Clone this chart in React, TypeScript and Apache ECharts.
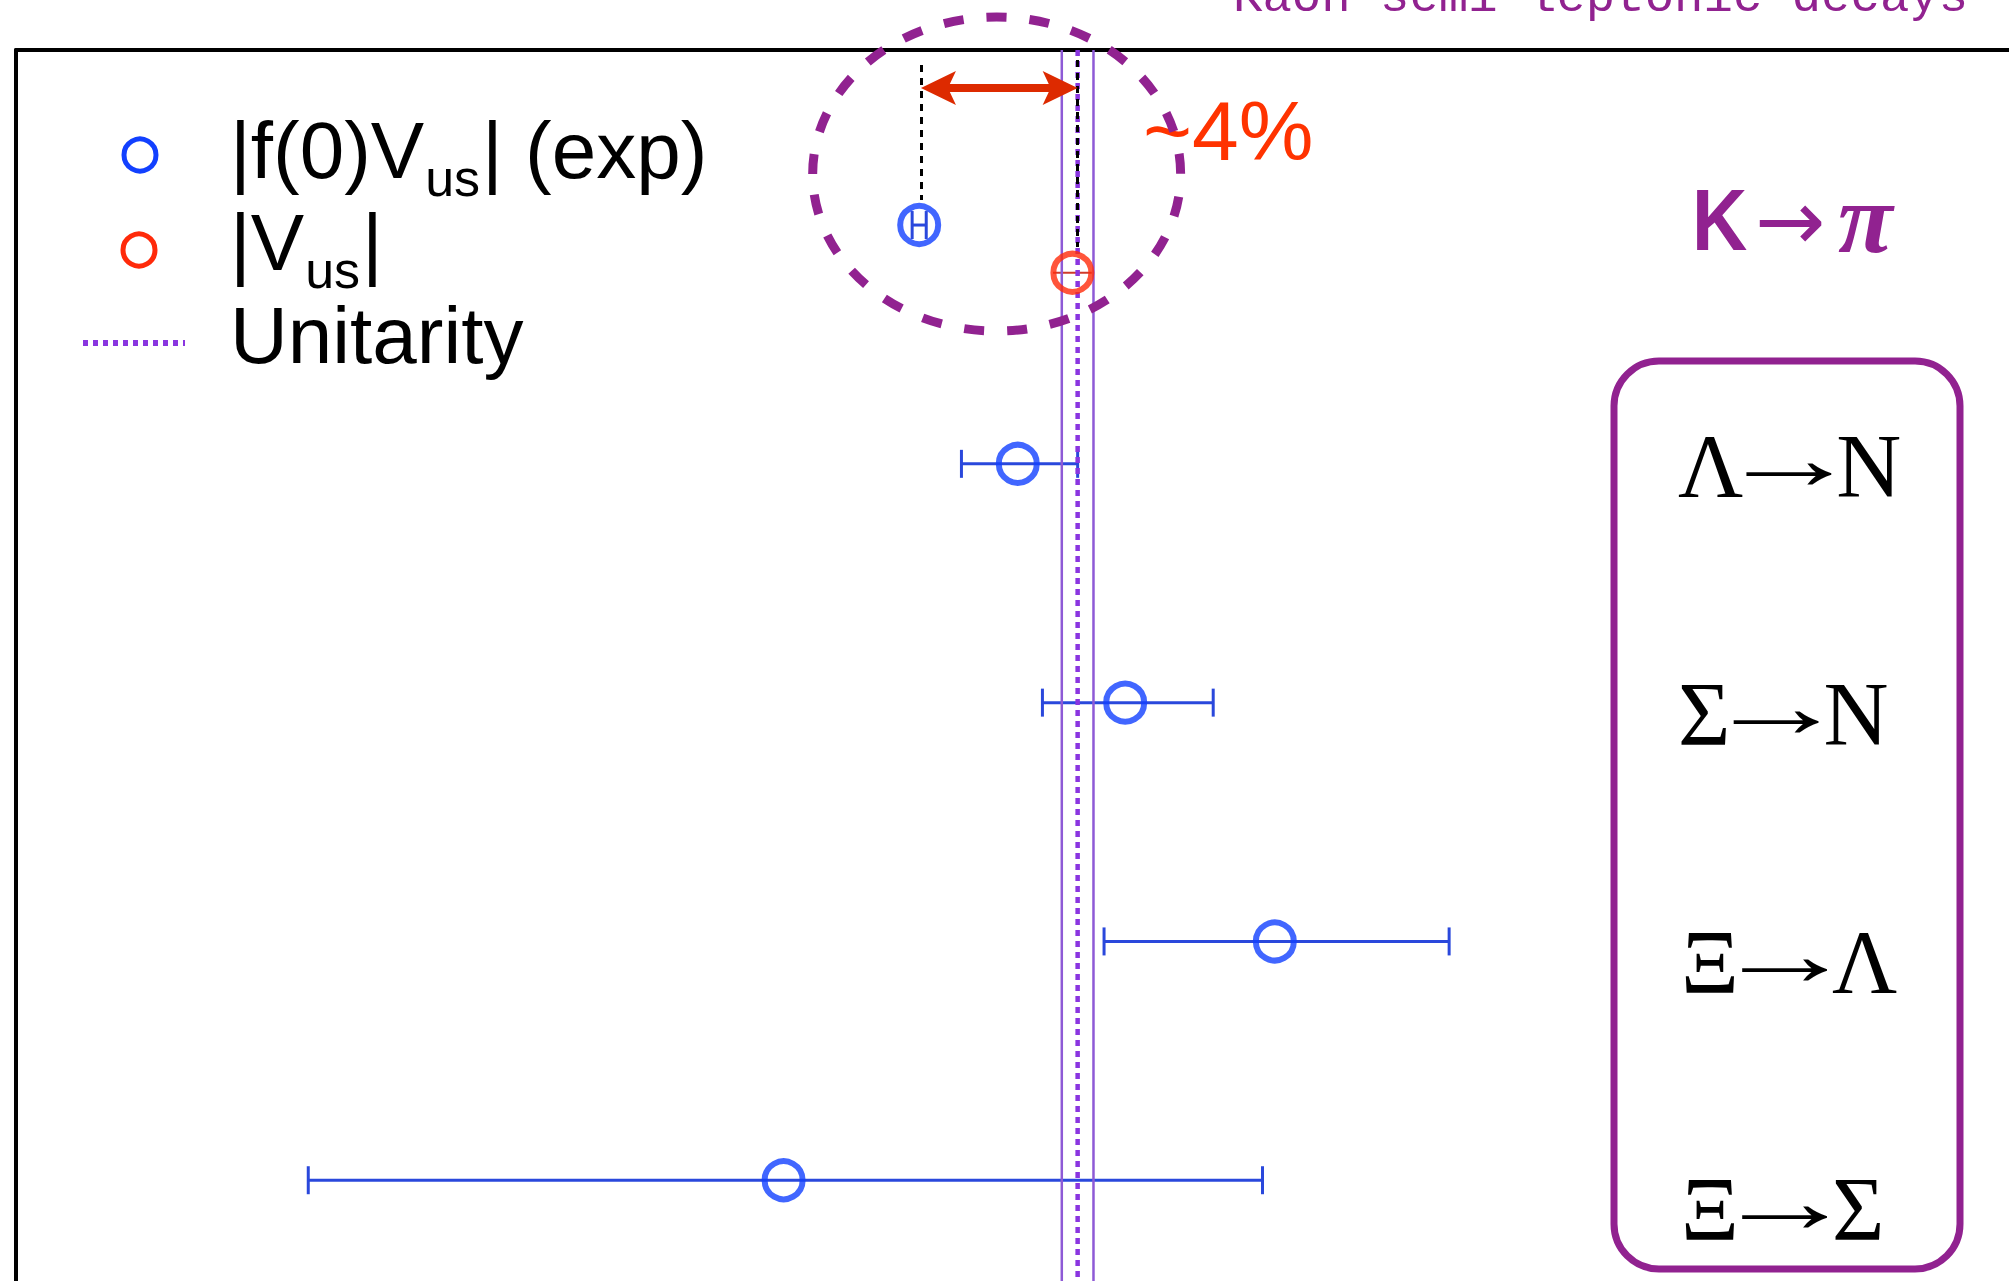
import { useEffect, useRef } from 'react';
import * as echarts from 'echarts';

const WIDTH = 2009;
const HEIGHT = 1281;

// Decay channels, top to bottom
const categories = ['K→π', 'Λ→N', 'Σ→N', 'Ξ→Λ', 'Ξ→Σ'];
const channelRow = [0, 1, 2, 3, 4];

// |f(0) Vus| from experiment: central value and error-bar edges
const expCentral = [0.2163, 0.2219, 0.228, 0.2365, 0.2086];
const expLow = [0.2159, 0.2187, 0.2233, 0.2268, 0.1816];
const expHigh = [0.2167, 0.2253, 0.233, 0.2464, 0.2358];

// |Vus| for the kaon channel, drawn a little below its row
const vusRow = [0.2];
const vusCentral = [0.225];
const vusLow = [0.2239];
const vusHigh = [0.2261];

// Unitarity value and band
const unitarityCentral = 0.2253;
const unitarityBand = [0.2244, 0.2262];

// Axis extents (x: |Vus|, y: channel row)
const xExtent = [0.165, 0.2782];
const rowExtent = [-0.733, 4.422];

// Annotation of the ~4% gap between the kaon point and unitarity
const gapLeftX = 0.2164;
const gapArrowRow = -0.574;
const guideLeftRows = [-0.67, -0.105];
const guideRightRows = [-0.691, 0.092];
const haloX = [0.21025, 0.23115];
const haloRows = [-0.871, 0.444];

const BLUE = '#1240ff';
const BLUE_BAR = '#2a48dc';
const RED = '#ff2a0a';
const PURPLE = '#912290';
const VIOLET_LINE = '#8e5ad6';
const VIOLET_DOT = '#8a35e0';

const CENTRAL: Record<string, number> = {
  'Liberation Sans': 0.3465,
  'Liberation Serif': 0.3375,
  'Liberation Mono': 0.2665,
  'DejaVu Sans': 0.346,
};

function measure(text: string, size: number, family: string, weight = 'normal', style = 'normal') {
  const ctx = document.createElement('canvas').getContext('2d')!;
  ctx.font = `${style} ${weight} ${size}px "${family}"`;
  return ctx.measureText(text);
}

function textAt(
  x: number,
  baseline: number,
  text: string,
  size: number,
  family: string,
  color: string,
  opts: { weight?: string; style?: string; align?: string; z?: number; scaleX?: number } = {}
) {
  return {
    type: 'text',
    x,
    y: baseline - CENTRAL[family] * size,
    scaleX: opts.scaleX ?? 1,
    z: opts.z ?? 20,
    silent: true,
    style: {
      text,
      fill: color,
      fontSize: size,
      fontFamily: family,
      fontWeight: opts.weight ?? 'normal',
      fontStyle: opts.style ?? 'normal',
      align: opts.align ?? 'left',
      verticalAlign: 'middle',
      textAlign: opts.align ?? 'left',
      textVerticalAlign: 'middle',
    },
  };
}

function errorBarRenderer(color: string, width: number, cap: number) {
  return (_params: any, api: any) => {
    const lo = api.coord([api.value(0), api.value(2)]);
    const hi = api.coord([api.value(1), api.value(2)]);
    const style = { stroke: color, lineWidth: width };
    const children: any[] = [
      { type: 'line', shape: { x1: lo[0], y1: lo[1], x2: hi[0], y2: hi[1] }, style },
    ];
    if (cap > 0) {
      children.push(
        { type: 'line', shape: { x1: lo[0], y1: lo[1] - cap, x2: lo[0], y2: lo[1] + cap }, style },
        { type: 'line', shape: { x1: hi[0], y1: hi[1] - cap, x2: hi[0], y2: hi[1] + cap }, style }
      );
    }
    return { type: 'group', children };
  };
}

// Full-height vertical lines: kind 0 = band edge, kind 1 = central value
function unitarityRenderer(params: any, api: any) {
  const cs = params.coordSys;
  const x = api.coord([api.value(0), 0])[0];
  const central = api.value(1) === 1;
  return {
    type: 'line',
    shape: { x1: x, y1: cs.y, x2: x, y2: cs.y + cs.height },
    style: central
      ? { stroke: VIOLET_DOT, lineWidth: 4.5, lineDash: [6, 5] }
      : { stroke: VIOLET_LINE, lineWidth: 2.5 },
  };
}

// A label like "Λ→N" drawn as letter, long arrow, letter
function channelLabel(label: string, x: number, baseline: number) {
  const chars = Array.from(label);
  const serif = 'Liberation Serif';
  const size = 90;
  const w0 = measure(chars[0], size, serif).width;
  const am = measure(chars[1], size, serif);
  const inkLeft = -am.actualBoundingBoxLeft;
  const inkW = am.actualBoundingBoxRight + am.actualBoundingBoxLeft;
  const arrowInk = 86;
  const sx = inkW > 0 ? arrowInk / inkW : 1.45;
  const inkStart = x + w0 + 3;
  const arrowX = inkStart - inkLeft * sx;
  return [
    textAt(x, baseline, chars[0], size, serif, '#000'),
    textAt(arrowX, baseline - 8, chars[1], size, serif, '#000', { scaleX: sx }),
    textAt(inkStart + arrowInk + 4, baseline, chars[2], size, serif, '#000'),
  ];
}

export default function App() {
  const ref = useRef<HTMLDivElement>(null);

  useEffect(() => {
    if (!ref.current) return;
    const chart = echarts.init(ref.current, undefined, { renderer: 'svg' });

    const axisLine = { show: true, onZero: false, lineStyle: { color: '#000', width: 4 } };

    chart.setOption({
      animation: false,
      backgroundColor: '#ffffff',
      grid: { left: 16, top: 50, right: 0, bottom: 0, containLabel: false },
      xAxis: {
        type: 'value',
        min: xExtent[0],
        max: xExtent[1],
        position: 'top',
        axisLine,
        axisTick: { show: false },
        axisLabel: { show: false },
        splitLine: { show: false },
      },
      yAxis: {
        type: 'value',
        min: rowExtent[0],
        max: rowExtent[1],
        inverse: true,
        axisLine,
        axisTick: { show: false },
        axisLabel: { show: false },
        splitLine: { show: false },
      },
      series: [
        {
          name: 'exp-errors',
          type: 'custom',
          z: 2,
          silent: true,
          renderItem: errorBarRenderer(BLUE_BAR, 3, 14),
          encode: { x: [0, 1], y: 2 },
          data: channelRow.map((r, i) => [expLow[i], expHigh[i], r]),
        },
        {
          name: 'vus-errors',
          type: 'custom',
          z: 2,
          silent: true,
          renderItem: errorBarRenderer('#d03a2a', 2, 0),
          encode: { x: [0, 1], y: 2 },
          data: vusRow.map((r, i) => [vusLow[i], vusHigh[i], r]),
        },
        {
          name: 'Unitarity',
          type: 'custom',
          z: 3,
          silent: true,
          renderItem: unitarityRenderer,
          encode: { x: 0, y: 1 },
          data: [
            [unitarityBand[0], 0],
            [unitarityBand[1], 0],
            [unitarityCentral, 1],
          ],
        },
        {
          name: 'guides',
          type: 'line',
          z: 4,
          showSymbol: false,
          data: [[unitarityCentral, 0]],
          markLine: {
            silent: true,
            symbol: ['none', 'none'],
            label: { show: false },
            lineStyle: { color: '#000', width: 3, type: [7, 6] },
            data: [
              [{ coord: [gapLeftX, guideLeftRows[0]] }, { coord: [gapLeftX, guideLeftRows[1]] }],
              [{ coord: [unitarityCentral, guideRightRows[0]] }, { coord: [unitarityCentral, guideRightRows[1]] }],
            ],
          },
        },
        {
          name: '|f(0)Vus| (exp)',
          type: 'scatter',
          z: 6,
          symbol: 'circle',
          symbolSize: 38,
          itemStyle: { color: 'rgba(0,0,0,0)', borderColor: BLUE, borderWidth: 6 },
          data: channelRow.map((r, i) => [expCentral[i], r]),
        },
        {
          name: '|Vus|',
          type: 'scatter',
          z: 6,
          symbol: 'circle',
          symbolSize: 38,
          itemStyle: { color: 'rgba(0,0,0,0)', borderColor: RED, borderWidth: 6 },
          data: vusRow.map((r, i) => [vusCentral[i], r]),
        },
      ],
    });

    const px = (x: number, r: number) => chart.convertToPixel({ gridIndex: 0 }, [x, r]) as number[];

    // ~4% arrow
    const a1 = px(gapLeftX, gapArrowRow);
    const a2 = px(unitarityCentral, gapArrowRow);
    const ay = a1[1];
    const arrowColor = '#dd2a00';
    // halo around the kaon points
    const h1 = px(haloX[0], haloRows[0]);
    const h2 = px(haloX[1], haloRows[1]);

    const sansF = 'Liberation Sans';
    const legendX = 230;
    const mainSize = 80;
    const subSize = 52;
    const subDrop = 18;
    const w1 = measure('|f(0)V', mainSize, sansF).width;
    const wSub = measure('us', subSize, sansF).width;
    const w2 = measure('|V', mainSize, sansF).width;

    const kaonChars = Array.from(categories[0]);

    const graphics: any[] = [
      // legend
      { type: 'circle', shape: { cx: 140, cy: 155, r: 16 }, style: { fill: 'none', stroke: BLUE, lineWidth: 5 }, z: 20 },
      { type: 'circle', shape: { cx: 139, cy: 250, r: 16 }, style: { fill: 'none', stroke: RED, lineWidth: 5 }, z: 20 },
      { type: 'line', shape: { x1: 83, y1: 343, x2: 185, y2: 343 }, style: { stroke: VIOLET_DOT, lineWidth: 6, lineDash: [5, 5] }, z: 20 },
      textAt(legendX, 178, '|f(0)V', mainSize, sansF, '#000'),
      textAt(legendX + w1 + 1, 178 + subDrop, 'us', subSize, sansF, '#000'),
      textAt(legendX + w1 + wSub + 3, 178, '| (exp)', mainSize, sansF, '#000'),
      textAt(legendX, 270, '|V', mainSize, sansF, '#000'),
      textAt(legendX + w2 + 1, 270 + subDrop, 'us', subSize, sansF, '#000'),
      textAt(legendX + w2 + wSub + 3, 270, '|', mainSize, sansF, '#000'),
      textAt(legendX, 363, 'Unitarity', mainSize, sansF, '#000'),

      // heading, cut by the top edge
      textAt(1233, 11, 'Kaon semi-leptonic decays', 49, 'Liberation Mono', PURPLE),

      // gap annotation
      textAt(1143, 160, '~4%', 84, sansF, '#ff3300', { z: 25 }),
      { type: 'line', shape: { x1: a1[0] + 26, y1: ay, x2: a2[0] - 26, y2: ay }, style: { stroke: arrowColor, lineWidth: 8 }, z: 26 },
      {
        type: 'polygon',
        shape: { points: [[a1[0], ay], [a1[0] + 35, ay - 17], [a1[0] + 27, ay], [a1[0] + 35, ay + 17]] },
        style: { fill: arrowColor },
        z: 26,
      },
      {
        type: 'polygon',
        shape: { points: [[a2[0], ay], [a2[0] - 35, ay - 17], [a2[0] - 27, ay], [a2[0] - 35, ay + 17]] },
        style: { fill: arrowColor },
        z: 26,
      },
      {
        type: 'ellipse',
        shape: { cx: (h1[0] + h2[0]) / 2, cy: (h1[1] + h2[1]) / 2, rx: Math.abs(h2[0] - h1[0]) / 2, ry: Math.abs(h2[1] - h1[1]) / 2 },
        style: { fill: 'none', stroke: PURPLE, lineWidth: 9, lineDash: [20, 23] },
        z: 30,
      },

      // kaon channel label
      textAt(1692, 250, kaonChars[0], 88, sansF, PURPLE, { weight: 'bold', scaleX: 0.87 }),
      textAt(1755, 250, kaonChars[1], 84, 'DejaVu Sans', PURPLE),
      textAt(1838, 252, kaonChars[2], 100, 'Liberation Serif', PURPLE, { weight: 'bold', style: 'italic' }),

      // hyperon channel box and labels
      {
        type: 'rect',
        shape: { x: 1614, y: 361, width: 346, height: 908, r: 45 },
        style: { fill: 'none', stroke: PURPLE, lineWidth: 7 },
        z: 20,
      },
      ...channelLabel(categories[1], 1678, 497),
      ...channelLabel(categories[2], 1678, 745),
      ...channelLabel(categories[3], 1681, 993),
      ...channelLabel(categories[4], 1681, 1240),
    ];

    chart.setOption({ graphic: { elements: graphics } });

    return () => chart.dispose();
  }, []);

  return (
    <div
      ref={ref}
      style={{ position: 'absolute', left: 0, top: 0, width: WIDTH, height: HEIGHT, background: '#fff' }}
    />
  );
}
